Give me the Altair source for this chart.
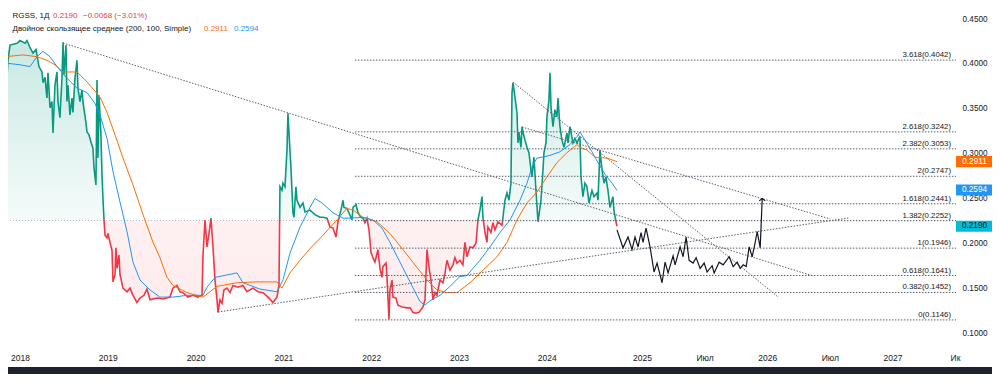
import altair as alt
import pandas as pd

# ---------------- text / headline values ----------------
ticker = "RGSS, 1Д"
last_close = 0.2190
change = -0.0068
change_pct = -3.01
ma_title = "Двойное скользящее среднее (200, 100, Simple)"
ma200_last = 0.2911
ma100_last = 0.2594
baseline_level = 0.2255

# ---------------- price series (decimal year, price) ----------------
price_year = [
    2017.829, 2017.863, 2017.886, 2017.966, 2018.000, 2018.057, 2018.080, 2018.114, 2018.148, 2018.182,
    2018.193, 2018.216, 2018.250, 2018.262, 2018.285, 2018.307, 2018.319, 2018.342, 2018.364, 2018.376,
    2018.398, 2018.421, 2018.433, 2018.455, 2018.478, 2018.490, 2018.501, 2018.524, 2018.535, 2018.547,
    2018.569, 2018.592, 2018.603, 2018.626, 2018.649, 2018.660, 2018.683, 2018.706, 2018.717, 2018.752,
    2018.763, 2018.786, 2018.808, 2018.831, 2018.843, 2018.865, 2018.877, 2018.888, 2018.900, 2018.922,
    2018.934, 2018.945, 2018.957, 2018.968, 2018.991, 2019.002, 2019.025, 2019.048, 2019.059, 2019.082,
    2019.093, 2019.105, 2019.127, 2019.139, 2019.173, 2019.219, 2019.253, 2019.287, 2019.332, 2019.367,
    2019.412, 2019.446, 2019.481, 2019.560, 2019.629, 2019.708, 2019.742, 2019.788, 2019.822, 2019.856,
    2019.913, 2019.970, 2020.027, 2020.073, 2020.084, 2020.107, 2020.130, 2020.153, 2020.175, 2020.198,
    2020.221, 2020.244, 2020.255, 2020.278, 2020.301, 2020.323, 2020.358, 2020.392, 2020.426, 2020.483,
    2020.540, 2020.585, 2020.654, 2020.711, 2020.768, 2020.825, 2020.881, 2020.927, 2020.950, 2020.961,
    2020.984, 2020.995, 2021.018, 2021.041, 2021.052, 2021.064, 2021.086, 2021.109, 2021.121, 2021.143,
    2021.155, 2021.189, 2021.223, 2021.246, 2021.303, 2021.360, 2021.417, 2021.451, 2021.497, 2021.531,
    2021.565, 2021.599, 2021.622, 2021.656, 2021.679, 2021.690, 2021.724, 2021.747, 2021.781, 2021.793,
    2021.827, 2021.850, 2021.884, 2021.907, 2021.929, 2021.952, 2021.975, 2021.998, 2022.020, 2022.043,
    2022.077, 2022.100, 2022.123, 2022.134, 2022.169, 2022.180, 2022.203, 2022.214, 2022.237, 2022.248,
    2022.282, 2022.305, 2022.351, 2022.408, 2022.442, 2022.476, 2022.510, 2022.544, 2022.590, 2022.613,
    2022.636, 2022.658, 2022.681, 2022.704, 2022.727, 2022.749, 2022.784, 2022.818, 2022.841, 2022.863,
    2022.898, 2022.932, 2022.954, 2022.977, 2023.011, 2023.045, 2023.068, 2023.091, 2023.125, 2023.159,
    2023.194, 2023.216, 2023.239, 2023.262, 2023.273, 2023.296, 2023.319, 2023.330, 2023.364, 2023.387,
    2023.410, 2023.444, 2023.490, 2023.501, 2023.524, 2023.547, 2023.570, 2023.592, 2023.604, 2023.615,
    2023.638, 2023.661, 2023.672, 2023.683, 2023.706, 2023.718, 2023.729, 2023.752, 2023.775, 2023.797,
    2023.820, 2023.831, 2023.854, 2023.877, 2023.900, 2023.934, 2023.957, 2023.968, 2023.991, 2024.002,
    2024.025, 2024.037, 2024.048, 2024.071, 2024.093, 2024.116, 2024.128, 2024.150, 2024.173, 2024.196,
    2024.230, 2024.242, 2024.264, 2024.298, 2024.321, 2024.344, 2024.378, 2024.390, 2024.412, 2024.435,
    2024.458, 2024.481, 2024.515, 2024.538, 2024.572, 2024.583, 2024.606, 2024.629, 2024.652, 2024.674,
    2024.697, 2024.720, 2024.754, 2024.765, 2024.788, 2024.800,
]
price_val = [
    0.346, 0.404, 0.421, 0.423, 0.426, 0.423, 0.426, 0.418, 0.412, 0.416,
    0.410, 0.397, 0.391, 0.379, 0.385, 0.362, 0.390, 0.351, 0.358, 0.323,
    0.376, 0.391, 0.358, 0.340, 0.384, 0.424, 0.388, 0.421, 0.358, 0.376,
    0.343, 0.362, 0.346, 0.384, 0.404, 0.373, 0.358, 0.371, 0.358, 0.334,
    0.324, 0.321, 0.313, 0.306, 0.284, 0.265, 0.382, 0.295, 0.365, 0.321,
    0.276, 0.250, 0.226, 0.209, 0.206, 0.211, 0.201, 0.192, 0.157, 0.165,
    0.195, 0.172, 0.187, 0.165, 0.150, 0.146, 0.150, 0.142, 0.134, 0.139,
    0.142, 0.149, 0.137, 0.139, 0.138, 0.140, 0.150, 0.153, 0.146, 0.145,
    0.140, 0.142, 0.140, 0.142, 0.185, 0.226, 0.196, 0.211, 0.228, 0.196,
    0.159, 0.137, 0.123, 0.137, 0.133, 0.148, 0.150, 0.145, 0.153, 0.151,
    0.153, 0.146, 0.150, 0.146, 0.145, 0.140, 0.134, 0.140, 0.153, 0.263,
    0.259, 0.267, 0.263, 0.304, 0.345, 0.323, 0.285, 0.234, 0.229, 0.263,
    0.248, 0.240, 0.245, 0.235, 0.237, 0.232, 0.229, 0.229, 0.228, 0.218,
    0.217, 0.207, 0.224, 0.237, 0.248, 0.240, 0.239, 0.234, 0.226, 0.240,
    0.243, 0.234, 0.229, 0.228, 0.223, 0.228, 0.215, 0.190, 0.184, 0.179,
    0.193, 0.172, 0.162, 0.174, 0.178, 0.162, 0.115, 0.148, 0.159, 0.140,
    0.139, 0.131, 0.129, 0.128, 0.128, 0.123, 0.122, 0.123, 0.129, 0.137,
    0.193, 0.174, 0.159, 0.137, 0.145, 0.142, 0.159, 0.156, 0.167, 0.181,
    0.170, 0.176, 0.184, 0.178, 0.181, 0.176, 0.201, 0.185, 0.196, 0.195,
    0.200, 0.226, 0.237, 0.252, 0.229, 0.212, 0.201, 0.218, 0.212, 0.223,
    0.215, 0.224, 0.220, 0.229, 0.248, 0.256, 0.248, 0.267, 0.368, 0.379,
    0.363, 0.345, 0.312, 0.324, 0.307, 0.330, 0.324, 0.315, 0.307, 0.301,
    0.282, 0.274, 0.296, 0.259, 0.224, 0.248, 0.282, 0.301, 0.312, 0.341,
    0.360, 0.390, 0.352, 0.330, 0.349, 0.341, 0.362, 0.330, 0.315, 0.307,
    0.323, 0.312, 0.330, 0.312, 0.317, 0.312, 0.319, 0.274, 0.252, 0.267,
    0.263, 0.245, 0.259, 0.252, 0.256, 0.248, 0.304, 0.282, 0.267, 0.274,
    0.259, 0.240, 0.252, 0.237, 0.224, 0.219,
]

# ---------------- moving averages ----------------
ma100_year = [
    2017.829, 2018.000, 2018.114, 2018.193, 2018.262, 2018.342, 2018.421, 2018.535, 2018.649, 2018.763,
    2018.854, 2018.911, 2018.991, 2019.059, 2019.139, 2019.219, 2019.287, 2019.367, 2019.481, 2019.594,
    2019.742, 2019.902, 2020.084, 2020.130, 2020.221, 2020.471, 2020.540, 2020.733, 2020.927, 2020.995,
    2021.075, 2021.189, 2021.303, 2021.360, 2021.440, 2021.565, 2021.679, 2021.759, 2021.907, 2022.020,
    2022.123, 2022.214, 2022.328, 2022.442, 2022.556, 2022.613, 2022.670, 2022.784, 2022.898, 2023.011,
    2023.091, 2023.159, 2023.239, 2023.353, 2023.467, 2023.581, 2023.695, 2023.775, 2023.831, 2023.888,
    2023.945, 2024.037, 2024.150, 2024.264, 2024.344, 2024.378, 2024.435, 2024.515, 2024.583, 2024.663,
    2024.743, 2024.800,
]
ma100_val = [
    0.401, 0.399, 0.397, 0.408, 0.414, 0.408, 0.397, 0.384, 0.373, 0.368,
    0.356, 0.343, 0.317, 0.280, 0.246, 0.213, 0.179, 0.159, 0.148, 0.140,
    0.140, 0.142, 0.142, 0.151, 0.162, 0.167, 0.156, 0.149, 0.146, 0.159,
    0.189, 0.218, 0.240, 0.250, 0.245, 0.234, 0.228, 0.228, 0.229, 0.226,
    0.217, 0.201, 0.179, 0.157, 0.135, 0.131, 0.136, 0.142, 0.152, 0.163,
    0.164, 0.172, 0.181, 0.196, 0.212, 0.226, 0.248, 0.267, 0.285, 0.295,
    0.296, 0.298, 0.302, 0.310, 0.319, 0.324, 0.315, 0.302, 0.290, 0.277,
    0.267, 0.259,
]
ma200_year = [
    2017.829, 2018.034, 2018.193, 2018.307, 2018.398, 2018.490, 2018.649, 2018.763, 2018.911, 2018.991,
    2019.082, 2019.173, 2019.287, 2019.401, 2019.515, 2019.594, 2019.674, 2019.742, 2019.902, 2020.084,
    2020.244, 2020.471, 2020.699, 2020.927, 2020.984, 2021.075, 2021.189, 2021.303, 2021.451, 2021.610,
    2021.724, 2021.793, 2021.907, 2022.066, 2022.214, 2022.362, 2022.522, 2022.636, 2022.749, 2022.863,
    2022.977, 2023.125, 2023.273, 2023.433, 2023.547, 2023.661, 2023.775, 2023.888, 2024.002, 2024.116,
    2024.230, 2024.344, 2024.378, 2024.458, 2024.549, 2024.686, 2024.800,
]
ma200_val = [
    0.408, 0.410, 0.408, 0.404, 0.399, 0.391, 0.391, 0.380, 0.363, 0.346,
    0.321, 0.295, 0.265, 0.232, 0.201, 0.184, 0.162, 0.153, 0.145, 0.140,
    0.152, 0.156, 0.157, 0.157, 0.150, 0.167, 0.181, 0.194, 0.209, 0.226,
    0.239, 0.237, 0.229, 0.224, 0.211, 0.193, 0.173, 0.159, 0.148, 0.145,
    0.145, 0.156, 0.170, 0.185, 0.201, 0.226, 0.245, 0.257, 0.274, 0.290,
    0.301, 0.310, 0.307, 0.304, 0.296, 0.295, 0.291,
]

# ---------------- projected path (drawn) ----------------
proj_year = [
    2024.800, 2024.848, 2024.888, 2024.920, 2024.944, 2024.968, 2024.992, 2025.008, 2025.032, 2025.064,
    2025.096, 2025.120, 2025.160, 2025.184, 2025.208, 2025.248, 2025.264, 2025.304, 2025.328, 2025.352,
    2025.376, 2025.408, 2025.432, 2025.464, 2025.496, 2025.520, 2025.560, 2025.576, 2025.616, 2025.648,
    2025.696, 2025.728, 2025.760, 2025.784, 2025.808, 2025.832, 2025.856, 2025.880, 2025.904, 2025.920,
    2025.944, 2025.960,
]
proj_val = [
    0.215, 0.195, 0.207, 0.193, 0.207, 0.196, 0.212, 0.201, 0.217, 0.196,
    0.168, 0.178, 0.156, 0.179, 0.167, 0.186, 0.176, 0.196, 0.185, 0.207,
    0.181, 0.178, 0.184, 0.172, 0.178, 0.168, 0.175, 0.167, 0.179, 0.176,
    0.185, 0.174, 0.179, 0.172, 0.176, 0.174, 0.196, 0.185, 0.201, 0.213,
    0.195, 0.250,
]

# ---------------- Fibonacci extension ----------------
fib_ratio = ["3.618", "2.618", "2.382", "2", "1.618", "1.382", "1", "0.618", "0.382", "0"]
fib_price = [0.4042, 0.3242, 0.3053, 0.2747, 0.2441, 0.2252, 0.1946, 0.1641, 0.1452, 0.1146]
fib_from_year = 2021.815

# ---------------- trend lines (two end points each) ----------------
trend_id = ["a", "a", "b", "b", "c", "c", "d", "d"]
trend_year = [2018.490, 2026.368, 2020.255, 2026.648, 2023.615, 2026.088, 2023.718, 2026.504]
trend_val = [0.4233, 0.1635, 0.1234, 0.2282, 0.3798, 0.1401, 0.3296, 0.2271]

# ---------------- axes ----------------
x_tick_year = [2018, 2019, 2020, 2021, 2022, 2023, 2024, 2025, 2025.5, 2026, 2026.5, 2027, 2027.5]
x_tick_text = ["2018", "2019", "2020", "2021", "2022", "2023", "2024", "2025", "Июл", "2026", "Июл", "2027", "Ик"]
y_tick_val = [0.10, 0.15, 0.20, 0.25, 0.30, 0.35, 0.40, 0.45]

# ---------------- styling ----------------
W, H = 948, 339
PAD_R, PAD_B = 36, 27
GREEN = "#089981"
RED = "#F23645"
ORANGE = "#FF6D00"
BLUE = "#2196F3"
CYAN = "#00BCD4"
INK = "#131722"
GRAY = "#5d606b"
FONT = "Liberation Sans"

label_expr = " : ".join(
    f"datum.value == {v} ? '{t}'" for v, t in zip(x_tick_year, x_tick_text)
) + " : ''"

x_scale = alt.Scale(domain=[2018, 2024.8, 2027.5], range=[12, 609, 947], nice=False, zero=False)
y_scale = alt.Scale(domain=[0.0844, 0.4623], nice=False, zero=False)

x_axis = alt.Axis(values=x_tick_year, labelExpr=label_expr, title=None, grid=False, ticks=False,
                  tickSize=0, domain=False, labelFont=FONT, labelFontSize=8.5, labelColor=INK,
                  labelPadding=10, labelBaseline="middle", labelFlush=False, labelOverlap=False)
y_axis = alt.Axis(orient="right", values=y_tick_val, format=".4f", title=None, grid=False, ticks=False,
                  tickSize=0, domain=False, labelFont=FONT, labelFontSize=8.2, labelColor=INK,
                  labelPadding=6, labelAlign="left", labelFlush=False, labelOverlap=False)

X = alt.X("t:Q", scale=x_scale, axis=x_axis)
Y = alt.Y("v:Q", scale=y_scale, axis=y_axis)

# ---------------- frames ----------------
df_price = pd.DataFrame({"t": price_year, "v": price_val})
df_price["b"] = baseline_level
df_ma100 = pd.DataFrame({"t": ma100_year, "v": ma100_val})
df_ma200 = pd.DataFrame({"t": ma200_year, "v": ma200_val})
df_proj = pd.DataFrame({"t": proj_year, "v": proj_val})
df_fib = pd.DataFrame({"t": [fib_from_year] * len(fib_price), "v": fib_price,
                       "lab": [f"{r}({p:.4f})" for r, p in zip(fib_ratio, fib_price)]})
df_trend = pd.DataFrame({"id": trend_id, "t": trend_year, "v": trend_val})

tag_vals = [ma200_last, ma100_last, last_close]
tag_fill = [ORANGE, BLUE, CYAN]
tag_ink = ["#ffffff", "#ffffff", INK]
half = 0.0062
df_tag_box = pd.DataFrame({"v": [v + half for v in tag_vals], "v2": [v - half for v in tag_vals],
                           "fill": tag_fill})
df_tag_txt = pd.DataFrame({"v": tag_vals, "lab": [f"{v:.4f}" for v in tag_vals], "ink": tag_ink})

dummy = pd.DataFrame({"k": [0]})

# baseline split of colours (hard gradient stop at the baseline)
pmax, pmin = max(price_val), min(price_val)
cut = (pmax - baseline_level) / (pmax - pmin)

line_grad = alt.Gradient(gradient="linear", x1=0, x2=0, y1=0, y2=1, stops=[
    alt.GradientStop(offset=0, color=GREEN), alt.GradientStop(offset=cut, color=GREEN),
    alt.GradientStop(offset=cut, color=RED), alt.GradientStop(offset=1, color=RED)])
area_grad = alt.Gradient(gradient="linear", x1=0, x2=0, y1=0, y2=1, stops=[
    alt.GradientStop(offset=0, color="rgba(8,153,129,0.22)"),
    alt.GradientStop(offset=cut, color="rgba(8,153,129,0.04)"),
    alt.GradientStop(offset=cut, color="rgba(242,54,69,0.07)"),
    alt.GradientStop(offset=1, color="rgba(242,54,69,0.10)")])

# ---------------- layers ----------------
bottom_strip = alt.Chart(dummy).mark_rect(color="#1e222d").encode(
    x=alt.value(0), x2=alt.value(W + PAD_R), y=alt.value(359), y2=alt.value(H + PAD_B))

area = alt.Chart(df_price).mark_area(color=area_grad).encode(x=X, y=Y, y2=alt.Y2("b"))

base_rule = alt.Chart(pd.DataFrame({"v": [baseline_level]})).mark_rule(
    color="#b2b5be", strokeDash=[1, 2], strokeWidth=1).encode(y=Y)

price_line = alt.Chart(df_price).mark_line(color=line_grad, strokeWidth=1.6).encode(x=X, y=Y)

ma200_line = alt.Chart(df_ma200).mark_line(color=ORANGE, strokeWidth=1).encode(x=X, y=Y)
ma100_line = alt.Chart(df_ma100).mark_line(color=BLUE, strokeWidth=1).encode(x=X, y=Y)

fib_rules = alt.Chart(df_fib).mark_rule(color=GRAY, strokeDash=[1.5, 1.5], strokeWidth=1).encode(
    x=X, x2=alt.value(W), y=Y)
fib_text = alt.Chart(df_fib).mark_text(align="right", baseline="bottom", dy=-1, font=FONT,
                                       fontSize=7.8, color=INK).encode(
    x=alt.value(943), y=Y, text="lab:N")

trends = alt.Chart(df_trend).mark_line(color=GRAY, strokeDash=[1.5, 1.5], strokeWidth=1).encode(
    x=X, y=Y, detail="id:N")

proj_line = alt.Chart(df_proj).mark_line(color=INK, strokeWidth=1.2).encode(x=X, y=Y)
arrow = alt.Chart(df_proj.tail(1)).mark_point(shape="M-1,0.8L0,0L1,0.8", size=36, filled=False,
                                              color=INK, strokeWidth=1.2, opacity=1).encode(x=X, y=Y)

tag_box = alt.Chart(df_tag_box).mark_rect().encode(
    x=alt.value(W), x2=alt.value(W + 37), y=Y, y2=alt.Y2("v2"), color=alt.Color("fill:N", scale=None))
tag_txt = alt.Chart(df_tag_txt).mark_text(font=FONT, fontSize=8.2, align="center", baseline="middle").encode(
    x=alt.value(W + 18.5), y=Y, text="lab:N", color=alt.Color("ink:N", scale=None))


def note(txt, x, y, color):
    return alt.Chart(dummy).mark_text(text=txt, align="left", baseline="middle", font=FONT,
                                      fontSize=8, color=color).encode(x=alt.value(x), y=alt.value(y))


chg_txt = f"{change:+.4f}".replace("-", "\u2212") + " (" + f"{change_pct:+.2f}".replace("-", "\u2212") + "%)"
legend = [
    note(ticker, 4.5, 8, INK),
    note(f"{last_close:.4f}", 45, 8, RED),
    note(chg_txt, 75, 8, RED),
    note(ma_title, 4.5, 21, INK),
    note(f"{ma200_last:.4f}", 196, 21, ORANGE),
    note(f"{ma100_last:.4f}", 226, 21, BLUE),
]

chart = alt.layer(
    bottom_strip, area, base_rule, price_line, ma200_line, ma100_line,
    fib_rules, fib_text, trends, proj_line, arrow, tag_box, tag_txt, *legend
).properties(
    width=W, height=H,
    padding={"left": 0, "top": 0, "right": PAD_R, "bottom": PAD_B},
    autosize=alt.AutoSizeParams(type="none"),
    background="#ffffff",
).configure_view(stroke=None)

chart.save("out.html", embed_options={"renderer": "svg", "actions": False})
